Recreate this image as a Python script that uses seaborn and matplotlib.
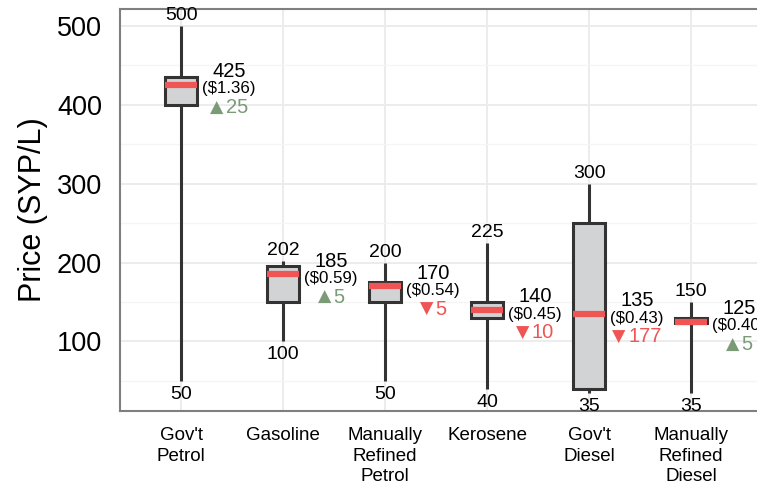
import numpy as np
import pandas as pd
import matplotlib
matplotlib.use("Agg")
import matplotlib.pyplot as plt
from matplotlib.ticker import MultipleLocator
import seaborn as sns

# five-number summary per fuel
fuels = ["Gov't\nPetrol", "Gasoline", "Manually\nRefined\nPetrol", "Kerosene", "Gov't\nDiesel", "Manually\nRefined\nDiesel"]
p_min = [50, 100, 50, 40, 35, 35]
p_q1 = [400, 150, 150, 130, 40, 123]
p_med = [425, 185, 170, 140, 135, 125]
p_q3 = [435, 196, 175, 150, 250, 130]
p_max = [500, 202, 200, 225, 300, 150]
usd = ["($1.36)", "($0.59)", "($0.54)", "($0.45)", "($0.43)", "($0.40)"]
change = [25, 5, -5, -10, -177, 5]

# 5 points per fuel -> quartiles come out exactly with whis=(0, 100)
rows = []
for i, f in enumerate(fuels):
    for v in [p_min[i], p_q1[i], p_med[i], p_q3[i], p_max[i]]:
        rows.append({"fuel": f, "price": v})
df = pd.DataFrame(rows)

sns.set_theme(style="whitegrid")
plt.rcParams['font.family'] = ['Liberation Sans', 'DejaVu Sans']

dark = "#333333"
red = "#EF5555"
green = "#7A9A78"

fig = plt.figure(figsize=(7.57, 4.91), dpi=100)
ax = fig.add_axes([120 / 757, 1 - 411 / 491, 637 / 757, 402 / 491])

sns.boxplot(data=df, x="fuel", y="price", order=fuels, whis=(0, 100), width=0.31,
            color="#D2D3D5", showcaps=False, ax=ax,
            boxprops=dict(edgecolor=dark, linewidth=2.2),
            whiskerprops=dict(color=dark, linewidth=2.2),
            medianprops=dict(color=red, linewidth=4.5, solid_capstyle="butt"))

fs_num = 14.5
digit_w = 0.556 * fs_num
tri_w = 10.0
for i in range(len(fuels)):
    ax.annotate(str(p_max[i]), (i, p_max[i]), xytext=(0, 4), textcoords="offset points",
                ha="center", va="baseline", fontsize=14, color="black")
    ax.annotate(str(p_min[i]), (i, p_min[i]), xytext=(0, -3.5), textcoords="offset points",
                ha="center", va="top", fontsize=14, color="black")
    xt = i + 0.47
    ax.annotate(str(p_med[i]), (xt, p_med[i]), xytext=(0, 9.5), textcoords="offset points",
                ha="center", va="center", fontsize=fs_num, color="black")
    ax.annotate(usd[i], (xt, p_med[i]), xytext=(0, -3), textcoords="offset points",
                ha="center", va="center", fontsize=12.2, color="black", annotation_clip=False)
    if change[i] > 0:
        tri, col = "\u25B2", green
    else:
        tri, col = "\u25BC", red
    num = str(abs(change[i]))
    w = tri_w + 1.5 + len(num) * digit_w
    ax.annotate(tri, (xt, p_med[i]), xytext=(-w / 2, -16.5), textcoords="offset points",
                ha="left", va="center", fontsize=12.5, family="DejaVu Sans", color=col,
                annotation_clip=False)
    ax.annotate(num, (xt, p_med[i]), xytext=(-w / 2 + tri_w + 1.5, -16.5), textcoords="offset points",
                ha="left", va="center", fontsize=fs_num, color=col, annotation_clip=False)

ax.set_xlim(-0.6, 5.645)
ax.set_ylim(12, 521)
ax.yaxis.set_major_locator(MultipleLocator(100))
ax.yaxis.set_minor_locator(MultipleLocator(50))
ax.grid(which="major", color="#EBEBEB", linewidth=1.3)
ax.grid(which="minor", axis="y", color="#F5F5F5", linewidth=1.0)
ax.set_axisbelow(True)

ax.set_xlabel("")
ax.set_ylabel("Price (SYP/L)", fontsize=22, color="black", labelpad=6)
ax.tick_params(axis="y", labelsize=19.5, length=8, width=2, color=dark, pad=5, labelcolor="black")
ax.tick_params(axis="x", labelsize=13.5, length=7, width=2, color=dark, pad=4.5, labelcolor="black")
ax.tick_params(which="minor", length=0)
for lbl in ax.get_xticklabels():
    lbl.set_linespacing(1.28)

for side in ["left", "top", "bottom"]:
    ax.spines[side].set_color("#7F7F7F")
    ax.spines[side].set_linewidth(1.5)
ax.spines["right"].set_visible(False)

fig.savefig("out.png", dpi=100)
